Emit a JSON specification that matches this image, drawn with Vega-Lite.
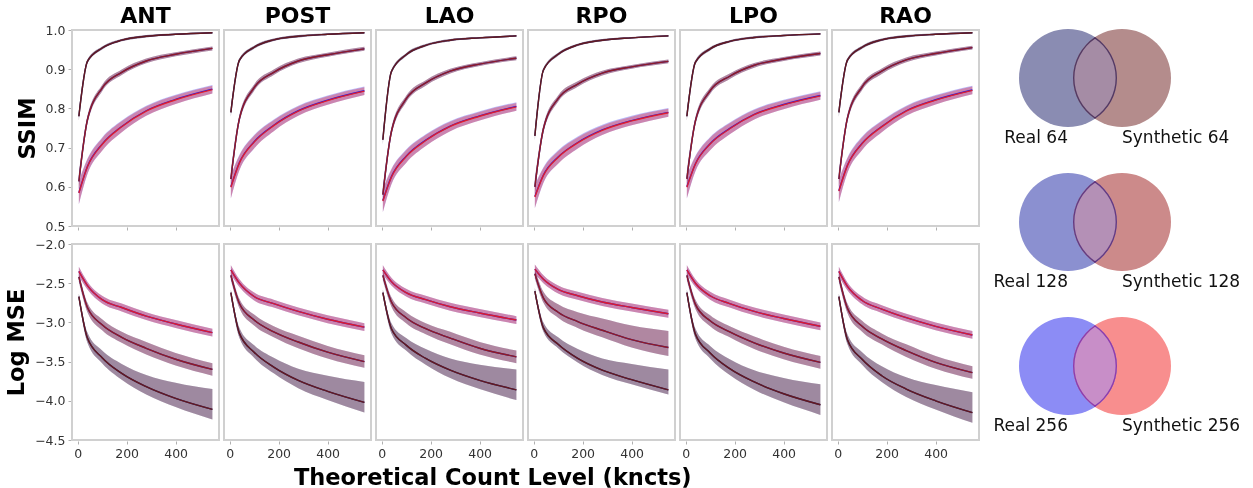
{
  "$schema": "https://vega.github.io/schema/vega-lite/v6.json",
  "padding": {"left": 5, "top": 5, "right": 5, "bottom": 0},
  "config": {
    "font": "DejaVu Sans",
    "view": {"stroke": "#d0d0d0", "strokeWidth": 2},
    "axis": {"labelFont": "DejaVu Sans", "labelFontSize": 12.5, "labelColor": "#333333", "labelOverlap": false, "labelFlush": false, "tickColor": "#b0b0b0", "tickSize": 3, "domain": false, "grid": false, "titleFont": "DejaVu Sans", "titleFontSize": 22.5, "titleFontWeight": "bold", "titleColor": "#000000", "labelPadding": 3, "titlePadding": 6},
    "header": {"labelFont": "DejaVu Sans", "labelFontSize": 22, "labelFontWeight": "bold", "labelColor": "#000000", "labelPadding": 0}
  },
  "datasets": {
    "ssim": [
      {"v":"ANT","r":"64","x":5,"y":0.780,"l":0.768,"h":0.792,"s":0.780,"sl":0.768,"sh":0.792},
      {"v":"ANT","r":"64","x":40,"y":0.920,"l":0.915,"h":0.925,"s":0.920,"sl":0.915,"sh":0.925},
      {"v":"ANT","r":"64","x":100,"y":0.954,"l":0.950,"h":0.958,"s":0.954,"sl":0.950,"sh":0.958},
      {"v":"ANT","r":"64","x":180,"y":0.974,"l":0.971,"h":0.977,"s":0.974,"sl":0.971,"sh":0.977},
      {"v":"ANT","r":"64","x":280,"y":0.984,"l":0.981,"h":0.987,"s":0.984,"sl":0.981,"sh":0.987},
      {"v":"ANT","r":"64","x":400,"y":0.989,"l":0.987,"h":0.991,"s":0.989,"sl":0.987,"sh":0.991},
      {"v":"ANT","r":"64","x":550,"y":0.993,"l":0.991,"h":0.995,"s":0.993,"sl":0.991,"sh":0.995},
      {"v":"ANT","r":"128","x":5,"y":0.614,"l":0.594,"h":0.634,"s":0.614,"sl":0.594,"sh":0.634},
      {"v":"ANT","r":"128","x":40,"y":0.771,"l":0.761,"h":0.781,"s":0.771,"sl":0.761,"sh":0.781},
      {"v":"ANT","r":"128","x":100,"y":0.852,"l":0.844,"h":0.860,"s":0.852,"sl":0.844,"sh":0.860},
      {"v":"ANT","r":"128","x":180,"y":0.892,"l":0.885,"h":0.899,"s":0.892,"sl":0.885,"sh":0.899},
      {"v":"ANT","r":"128","x":280,"y":0.921,"l":0.915,"h":0.927,"s":0.921,"sl":0.915,"sh":0.927},
      {"v":"ANT","r":"128","x":400,"y":0.938,"l":0.933,"h":0.943,"s":0.938,"sl":0.933,"sh":0.943},
      {"v":"ANT","r":"128","x":550,"y":0.953,"l":0.948,"h":0.958,"s":0.953,"sl":0.948,"sh":0.958},
      {"v":"ANT","r":"256","x":5,"y":0.585,"l":0.555,"h":0.615,"s":0.584,"sl":0.556,"sh":0.613},
      {"v":"ANT","r":"256","x":40,"y":0.652,"l":0.632,"h":0.672,"s":0.651,"sl":0.633,"sh":0.670},
      {"v":"ANT","r":"256","x":100,"y":0.709,"l":0.692,"h":0.726,"s":0.708,"sl":0.692,"sh":0.724},
      {"v":"ANT","r":"256","x":180,"y":0.754,"l":0.739,"h":0.769,"s":0.753,"sl":0.739,"sh":0.767},
      {"v":"ANT","r":"256","x":280,"y":0.794,"l":0.781,"h":0.807,"s":0.793,"sl":0.781,"sh":0.805},
      {"v":"ANT","r":"256","x":400,"y":0.823,"l":0.811,"h":0.835,"s":0.822,"sl":0.811,"sh":0.833},
      {"v":"ANT","r":"256","x":550,"y":0.849,"l":0.838,"h":0.860,"s":0.848,"sl":0.838,"sh":0.858},
      {"v":"POST","r":"64","x":5,"y":0.790,"l":0.778,"h":0.802,"s":0.790,"sl":0.778,"sh":0.802},
      {"v":"POST","r":"64","x":40,"y":0.923,"l":0.918,"h":0.928,"s":0.923,"sl":0.918,"sh":0.928},
      {"v":"POST","r":"64","x":100,"y":0.956,"l":0.952,"h":0.960,"s":0.956,"sl":0.952,"sh":0.960},
      {"v":"POST","r":"64","x":180,"y":0.975,"l":0.972,"h":0.978,"s":0.975,"sl":0.972,"sh":0.978},
      {"v":"POST","r":"64","x":280,"y":0.984,"l":0.981,"h":0.987,"s":0.984,"sl":0.981,"sh":0.987},
      {"v":"POST","r":"64","x":400,"y":0.989,"l":0.987,"h":0.991,"s":0.989,"sl":0.987,"sh":0.991},
      {"v":"POST","r":"64","x":550,"y":0.993,"l":0.991,"h":0.995,"s":0.993,"sl":0.991,"sh":0.995},
      {"v":"POST","r":"128","x":5,"y":0.620,"l":0.600,"h":0.640,"s":0.620,"sl":0.600,"sh":0.640},
      {"v":"POST","r":"128","x":40,"y":0.774,"l":0.764,"h":0.784,"s":0.774,"sl":0.764,"sh":0.784},
      {"v":"POST","r":"128","x":100,"y":0.853,"l":0.845,"h":0.861,"s":0.853,"sl":0.845,"sh":0.861},
      {"v":"POST","r":"128","x":180,"y":0.892,"l":0.885,"h":0.899,"s":0.892,"sl":0.885,"sh":0.899},
      {"v":"POST","r":"128","x":280,"y":0.921,"l":0.915,"h":0.927,"s":0.921,"sl":0.915,"sh":0.927},
      {"v":"POST","r":"128","x":400,"y":0.937,"l":0.932,"h":0.942,"s":0.937,"sl":0.932,"sh":0.942},
      {"v":"POST","r":"128","x":550,"y":0.952,"l":0.947,"h":0.957,"s":0.952,"sl":0.947,"sh":0.957},
      {"v":"POST","r":"256","x":5,"y":0.600,"l":0.570,"h":0.630,"s":0.599,"sl":0.571,"sh":0.628},
      {"v":"POST","r":"256","x":40,"y":0.662,"l":0.642,"h":0.682,"s":0.661,"sl":0.643,"sh":0.680},
      {"v":"POST","r":"256","x":100,"y":0.715,"l":0.698,"h":0.732,"s":0.714,"sl":0.698,"sh":0.730},
      {"v":"POST","r":"256","x":180,"y":0.757,"l":0.742,"h":0.772,"s":0.756,"sl":0.742,"sh":0.770},
      {"v":"POST","r":"256","x":280,"y":0.794,"l":0.781,"h":0.807,"s":0.793,"sl":0.781,"sh":0.805},
      {"v":"POST","r":"256","x":400,"y":0.821,"l":0.809,"h":0.833,"s":0.820,"sl":0.809,"sh":0.831},
      {"v":"POST","r":"256","x":550,"y":0.845,"l":0.834,"h":0.856,"s":0.844,"sl":0.834,"sh":0.854},
      {"v":"LAO","r":"64","x":5,"y":0.720,"l":0.708,"h":0.732,"s":0.720,"sl":0.708,"sh":0.732},
      {"v":"LAO","r":"64","x":40,"y":0.894,"l":0.889,"h":0.899,"s":0.894,"sl":0.889,"sh":0.899},
      {"v":"LAO","r":"64","x":100,"y":0.937,"l":0.933,"h":0.941,"s":0.937,"sl":0.933,"sh":0.941},
      {"v":"LAO","r":"64","x":180,"y":0.961,"l":0.958,"h":0.964,"s":0.961,"sl":0.958,"sh":0.964},
      {"v":"LAO","r":"64","x":280,"y":0.974,"l":0.971,"h":0.977,"s":0.974,"sl":0.971,"sh":0.977},
      {"v":"LAO","r":"64","x":400,"y":0.980,"l":0.978,"h":0.982,"s":0.980,"sl":0.978,"sh":0.982},
      {"v":"LAO","r":"64","x":550,"y":0.985,"l":0.983,"h":0.987,"s":0.985,"sl":0.983,"sh":0.987},
      {"v":"LAO","r":"128","x":5,"y":0.580,"l":0.560,"h":0.600,"s":0.580,"sl":0.560,"sh":0.600},
      {"v":"LAO","r":"128","x":40,"y":0.741,"l":0.731,"h":0.751,"s":0.741,"sl":0.731,"sh":0.751},
      {"v":"LAO","r":"128","x":100,"y":0.824,"l":0.816,"h":0.832,"s":0.824,"sl":0.816,"sh":0.832},
      {"v":"LAO","r":"128","x":180,"y":0.865,"l":0.858,"h":0.872,"s":0.865,"sl":0.858,"sh":0.872},
      {"v":"LAO","r":"128","x":280,"y":0.895,"l":0.889,"h":0.901,"s":0.895,"sl":0.889,"sh":0.901},
      {"v":"LAO","r":"128","x":400,"y":0.913,"l":0.908,"h":0.918,"s":0.913,"sl":0.908,"sh":0.918},
      {"v":"LAO","r":"128","x":550,"y":0.928,"l":0.923,"h":0.933,"s":0.928,"sl":0.923,"sh":0.933},
      {"v":"LAO","r":"256","x":5,"y":0.565,"l":0.535,"h":0.595,"s":0.564,"sl":0.536,"sh":0.593},
      {"v":"LAO","r":"256","x":40,"y":0.626,"l":0.606,"h":0.646,"s":0.625,"sl":0.607,"sh":0.644},
      {"v":"LAO","r":"256","x":100,"y":0.678,"l":0.661,"h":0.695,"s":0.677,"sl":0.661,"sh":0.693},
      {"v":"LAO","r":"256","x":180,"y":0.719,"l":0.704,"h":0.734,"s":0.718,"sl":0.704,"sh":0.732},
      {"v":"LAO","r":"256","x":280,"y":0.755,"l":0.742,"h":0.768,"s":0.754,"sl":0.742,"sh":0.766},
      {"v":"LAO","r":"256","x":400,"y":0.781,"l":0.769,"h":0.793,"s":0.780,"sl":0.769,"sh":0.791},
      {"v":"LAO","r":"256","x":550,"y":0.805,"l":0.794,"h":0.816,"s":0.804,"sl":0.794,"sh":0.814},
      {"v":"RPO","r":"64","x":5,"y":0.730,"l":0.718,"h":0.742,"s":0.730,"sl":0.718,"sh":0.742},
      {"v":"RPO","r":"64","x":40,"y":0.898,"l":0.893,"h":0.903,"s":0.898,"sl":0.893,"sh":0.903},
      {"v":"RPO","r":"64","x":100,"y":0.938,"l":0.934,"h":0.942,"s":0.938,"sl":0.934,"sh":0.942},
      {"v":"RPO","r":"64","x":180,"y":0.962,"l":0.959,"h":0.965,"s":0.962,"sl":0.959,"sh":0.965},
      {"v":"RPO","r":"64","x":280,"y":0.974,"l":0.971,"h":0.977,"s":0.974,"sl":0.971,"sh":0.977},
      {"v":"RPO","r":"64","x":400,"y":0.980,"l":0.978,"h":0.982,"s":0.980,"sl":0.978,"sh":0.982},
      {"v":"RPO","r":"64","x":550,"y":0.985,"l":0.983,"h":0.987,"s":0.985,"sl":0.983,"sh":0.987},
      {"v":"RPO","r":"128","x":5,"y":0.600,"l":0.580,"h":0.620,"s":0.600,"sl":0.580,"sh":0.620},
      {"v":"RPO","r":"128","x":40,"y":0.748,"l":0.738,"h":0.758,"s":0.748,"sl":0.738,"sh":0.758},
      {"v":"RPO","r":"128","x":100,"y":0.825,"l":0.817,"h":0.833,"s":0.825,"sl":0.817,"sh":0.833},
      {"v":"RPO","r":"128","x":180,"y":0.862,"l":0.855,"h":0.869,"s":0.862,"sl":0.855,"sh":0.869},
      {"v":"RPO","r":"128","x":280,"y":0.890,"l":0.884,"h":0.896,"s":0.890,"sl":0.884,"sh":0.896},
      {"v":"RPO","r":"128","x":400,"y":0.906,"l":0.901,"h":0.911,"s":0.906,"sl":0.901,"sh":0.911},
      {"v":"RPO","r":"128","x":550,"y":0.920,"l":0.915,"h":0.925,"s":0.920,"sl":0.915,"sh":0.925},
      {"v":"RPO","r":"256","x":5,"y":0.575,"l":0.545,"h":0.605,"s":0.574,"sl":0.546,"sh":0.603},
      {"v":"RPO","r":"256","x":40,"y":0.630,"l":0.610,"h":0.650,"s":0.629,"sl":0.611,"sh":0.648},
      {"v":"RPO","r":"256","x":100,"y":0.676,"l":0.659,"h":0.693,"s":0.675,"sl":0.659,"sh":0.691},
      {"v":"RPO","r":"256","x":180,"y":0.713,"l":0.698,"h":0.728,"s":0.712,"sl":0.698,"sh":0.726},
      {"v":"RPO","r":"256","x":280,"y":0.745,"l":0.732,"h":0.758,"s":0.744,"sl":0.732,"sh":0.756},
      {"v":"RPO","r":"256","x":400,"y":0.769,"l":0.757,"h":0.781,"s":0.768,"sl":0.757,"sh":0.779},
      {"v":"RPO","r":"256","x":550,"y":0.790,"l":0.779,"h":0.801,"s":0.789,"sl":0.779,"sh":0.799},
      {"v":"LPO","r":"64","x":5,"y":0.780,"l":0.768,"h":0.792,"s":0.780,"sl":0.768,"sh":0.792},
      {"v":"LPO","r":"64","x":40,"y":0.918,"l":0.913,"h":0.923,"s":0.918,"sl":0.913,"sh":0.923},
      {"v":"LPO","r":"64","x":100,"y":0.952,"l":0.948,"h":0.956,"s":0.952,"sl":0.948,"sh":0.956},
      {"v":"LPO","r":"64","x":180,"y":0.971,"l":0.968,"h":0.974,"s":0.971,"sl":0.968,"sh":0.974},
      {"v":"LPO","r":"64","x":280,"y":0.981,"l":0.978,"h":0.984,"s":0.981,"sl":0.978,"sh":0.984},
      {"v":"LPO","r":"64","x":400,"y":0.986,"l":0.984,"h":0.988,"s":0.986,"sl":0.984,"sh":0.988},
      {"v":"LPO","r":"64","x":550,"y":0.990,"l":0.988,"h":0.992,"s":0.990,"sl":0.988,"sh":0.992},
      {"v":"LPO","r":"128","x":5,"y":0.620,"l":0.600,"h":0.640,"s":0.620,"sl":0.600,"sh":0.640},
      {"v":"LPO","r":"128","x":40,"y":0.768,"l":0.758,"h":0.778,"s":0.768,"sl":0.758,"sh":0.778},
      {"v":"LPO","r":"128","x":100,"y":0.845,"l":0.837,"h":0.853,"s":0.845,"sl":0.837,"sh":0.853},
      {"v":"LPO","r":"128","x":180,"y":0.882,"l":0.875,"h":0.889,"s":0.882,"sl":0.875,"sh":0.889},
      {"v":"LPO","r":"128","x":280,"y":0.910,"l":0.904,"h":0.916,"s":0.910,"sl":0.904,"sh":0.916},
      {"v":"LPO","r":"128","x":400,"y":0.926,"l":0.921,"h":0.931,"s":0.926,"sl":0.921,"sh":0.931},
      {"v":"LPO","r":"128","x":550,"y":0.940,"l":0.935,"h":0.945,"s":0.940,"sl":0.935,"sh":0.945},
      {"v":"LPO","r":"256","x":5,"y":0.600,"l":0.570,"h":0.630,"s":0.599,"sl":0.571,"sh":0.628},
      {"v":"LPO","r":"256","x":40,"y":0.659,"l":0.639,"h":0.679,"s":0.658,"sl":0.640,"sh":0.677},
      {"v":"LPO","r":"256","x":100,"y":0.710,"l":0.693,"h":0.727,"s":0.709,"sl":0.693,"sh":0.725},
      {"v":"LPO","r":"256","x":180,"y":0.749,"l":0.734,"h":0.764,"s":0.748,"sl":0.734,"sh":0.762},
      {"v":"LPO","r":"256","x":280,"y":0.785,"l":0.772,"h":0.798,"s":0.784,"sl":0.772,"sh":0.796},
      {"v":"LPO","r":"256","x":400,"y":0.810,"l":0.798,"h":0.822,"s":0.809,"sl":0.798,"sh":0.820},
      {"v":"LPO","r":"256","x":550,"y":0.833,"l":0.822,"h":0.844,"s":0.832,"sl":0.822,"sh":0.842},
      {"v":"RAO","r":"64","x":5,"y":0.790,"l":0.778,"h":0.802,"s":0.790,"sl":0.778,"sh":0.802},
      {"v":"RAO","r":"64","x":40,"y":0.923,"l":0.918,"h":0.928,"s":0.923,"sl":0.918,"sh":0.928},
      {"v":"RAO","r":"64","x":100,"y":0.956,"l":0.952,"h":0.960,"s":0.956,"sl":0.952,"sh":0.960},
      {"v":"RAO","r":"64","x":180,"y":0.975,"l":0.972,"h":0.978,"s":0.975,"sl":0.972,"sh":0.978},
      {"v":"RAO","r":"64","x":280,"y":0.984,"l":0.981,"h":0.987,"s":0.984,"sl":0.981,"sh":0.987},
      {"v":"RAO","r":"64","x":400,"y":0.989,"l":0.987,"h":0.991,"s":0.989,"sl":0.987,"sh":0.991},
      {"v":"RAO","r":"64","x":550,"y":0.993,"l":0.991,"h":0.995,"s":0.993,"sl":0.991,"sh":0.995},
      {"v":"RAO","r":"128","x":5,"y":0.620,"l":0.600,"h":0.640,"s":0.620,"sl":0.600,"sh":0.640},
      {"v":"RAO","r":"128","x":40,"y":0.775,"l":0.765,"h":0.785,"s":0.775,"sl":0.765,"sh":0.785},
      {"v":"RAO","r":"128","x":100,"y":0.855,"l":0.847,"h":0.863,"s":0.855,"sl":0.847,"sh":0.863},
      {"v":"RAO","r":"128","x":180,"y":0.895,"l":0.888,"h":0.902,"s":0.895,"sl":0.888,"sh":0.902},
      {"v":"RAO","r":"128","x":280,"y":0.924,"l":0.918,"h":0.930,"s":0.924,"sl":0.918,"sh":0.930},
      {"v":"RAO","r":"128","x":400,"y":0.940,"l":0.935,"h":0.945,"s":0.940,"sl":0.935,"sh":0.945},
      {"v":"RAO","r":"128","x":550,"y":0.955,"l":0.950,"h":0.960,"s":0.955,"sl":0.950,"sh":0.960},
      {"v":"RAO","r":"256","x":5,"y":0.590,"l":0.560,"h":0.620,"s":0.589,"sl":0.561,"sh":0.618},
      {"v":"RAO","r":"256","x":40,"y":0.655,"l":0.635,"h":0.675,"s":0.654,"sl":0.636,"sh":0.673},
      {"v":"RAO","r":"256","x":100,"y":0.711,"l":0.694,"h":0.728,"s":0.710,"sl":0.694,"sh":0.726},
      {"v":"RAO","r":"256","x":180,"y":0.754,"l":0.739,"h":0.769,"s":0.753,"sl":0.739,"sh":0.767},
      {"v":"RAO","r":"256","x":280,"y":0.794,"l":0.781,"h":0.807,"s":0.793,"sl":0.781,"sh":0.805},
      {"v":"RAO","r":"256","x":400,"y":0.822,"l":0.810,"h":0.834,"s":0.821,"sl":0.810,"sh":0.832},
      {"v":"RAO","r":"256","x":550,"y":0.847,"l":0.836,"h":0.858,"s":0.846,"sl":0.836,"sh":0.856}
    ],
    "mse": [
      {"v":"ANT","r":"64","x":5,"y":-2.67,"l":-2.71,"h":-2.63,"s":-2.67,"sl":-2.71,"sh":-2.63},
      {"v":"ANT","r":"64","x":40,"y":-3.20,"l":-3.26,"h":-3.13,"s":-3.20,"sl":-3.26,"sh":-3.13},
      {"v":"ANT","r":"64","x":100,"y":-3.45,"l":-3.52,"h":-3.36,"s":-3.45,"sl":-3.52,"sh":-3.36},
      {"v":"ANT","r":"64","x":180,"y":-3.65,"l":-3.73,"h":-3.53,"s":-3.65,"sl":-3.73,"sh":-3.53},
      {"v":"ANT","r":"64","x":280,"y":-3.82,"l":-3.92,"h":-3.67,"s":-3.82,"sl":-3.92,"sh":-3.67},
      {"v":"ANT","r":"64","x":400,"y":-3.97,"l":-4.08,"h":-3.77,"s":-3.97,"sl":-4.08,"sh":-3.77},
      {"v":"ANT","r":"64","x":550,"y":-4.11,"l":-4.24,"h":-3.85,"s":-4.11,"sl":-4.24,"sh":-3.85},
      {"v":"ANT","r":"128","x":5,"y":-2.42,"l":-2.48,"h":-2.36,"s":-2.42,"sl":-2.48,"sh":-2.36},
      {"v":"ANT","r":"128","x":40,"y":-2.81,"l":-2.87,"h":-2.75,"s":-2.81,"sl":-2.87,"sh":-2.75},
      {"v":"ANT","r":"128","x":100,"y":-3.03,"l":-3.10,"h":-2.96,"s":-3.03,"sl":-3.10,"sh":-2.96},
      {"v":"ANT","r":"128","x":180,"y":-3.19,"l":-3.26,"h":-3.12,"s":-3.19,"sl":-3.26,"sh":-3.12},
      {"v":"ANT","r":"128","x":280,"y":-3.33,"l":-3.41,"h":-3.25,"s":-3.33,"sl":-3.41,"sh":-3.25},
      {"v":"ANT","r":"128","x":400,"y":-3.47,"l":-3.55,"h":-3.39,"s":-3.47,"sl":-3.55,"sh":-3.39},
      {"v":"ANT","r":"128","x":550,"y":-3.60,"l":-3.68,"h":-3.52,"s":-3.60,"sl":-3.68,"sh":-3.52},
      {"v":"ANT","r":"256","x":5,"y":-2.35,"l":-2.41,"h":-2.29,"s":-2.35,"sl":-2.41,"sh":-2.29},
      {"v":"ANT","r":"256","x":40,"y":-2.53,"l":-2.58,"h":-2.48,"s":-2.53,"sl":-2.58,"sh":-2.48},
      {"v":"ANT","r":"256","x":100,"y":-2.71,"l":-2.76,"h":-2.66,"s":-2.71,"sl":-2.76,"sh":-2.66},
      {"v":"ANT","r":"256","x":180,"y":-2.81,"l":-2.86,"h":-2.76,"s":-2.81,"sl":-2.86,"sh":-2.76},
      {"v":"ANT","r":"256","x":280,"y":-2.92,"l":-2.97,"h":-2.87,"s":-2.92,"sl":-2.97,"sh":-2.87},
      {"v":"ANT","r":"256","x":400,"y":-3.02,"l":-3.07,"h":-2.97,"s":-3.02,"sl":-3.07,"sh":-2.97},
      {"v":"ANT","r":"256","x":550,"y":-3.13,"l":-3.18,"h":-3.08,"s":-3.13,"sl":-3.18,"sh":-3.08},
      {"v":"POST","r":"64","x":5,"y":-2.62,"l":-2.66,"h":-2.58,"s":-2.62,"sl":-2.66,"sh":-2.58},
      {"v":"POST","r":"64","x":40,"y":-3.14,"l":-3.20,"h":-3.07,"s":-3.14,"sl":-3.20,"sh":-3.07},
      {"v":"POST","r":"64","x":100,"y":-3.38,"l":-3.45,"h":-3.29,"s":-3.38,"sl":-3.45,"sh":-3.29},
      {"v":"POST","r":"64","x":180,"y":-3.57,"l":-3.65,"h":-3.45,"s":-3.57,"sl":-3.65,"sh":-3.45},
      {"v":"POST","r":"64","x":280,"y":-3.74,"l":-3.84,"h":-3.59,"s":-3.74,"sl":-3.84,"sh":-3.59},
      {"v":"POST","r":"64","x":400,"y":-3.88,"l":-3.99,"h":-3.68,"s":-3.88,"sl":-3.99,"sh":-3.68},
      {"v":"POST","r":"64","x":550,"y":-4.02,"l":-4.15,"h":-3.76,"s":-4.02,"sl":-4.15,"sh":-3.76},
      {"v":"POST","r":"128","x":5,"y":-2.40,"l":-2.46,"h":-2.34,"s":-2.40,"sl":-2.46,"sh":-2.34},
      {"v":"POST","r":"128","x":40,"y":-2.76,"l":-2.82,"h":-2.70,"s":-2.76,"sl":-2.82,"sh":-2.70},
      {"v":"POST","r":"128","x":100,"y":-2.97,"l":-3.04,"h":-2.90,"s":-2.97,"sl":-3.04,"sh":-2.90},
      {"v":"POST","r":"128","x":180,"y":-3.12,"l":-3.19,"h":-3.05,"s":-3.12,"sl":-3.19,"sh":-3.05},
      {"v":"POST","r":"128","x":280,"y":-3.25,"l":-3.33,"h":-3.17,"s":-3.25,"sl":-3.33,"sh":-3.17},
      {"v":"POST","r":"128","x":400,"y":-3.38,"l":-3.46,"h":-3.30,"s":-3.38,"sl":-3.46,"sh":-3.30},
      {"v":"POST","r":"128","x":550,"y":-3.50,"l":-3.58,"h":-3.42,"s":-3.50,"sl":-3.58,"sh":-3.42},
      {"v":"POST","r":"256","x":5,"y":-2.33,"l":-2.39,"h":-2.27,"s":-2.33,"sl":-2.39,"sh":-2.27},
      {"v":"POST","r":"256","x":40,"y":-2.50,"l":-2.55,"h":-2.45,"s":-2.50,"sl":-2.55,"sh":-2.45},
      {"v":"POST","r":"256","x":100,"y":-2.67,"l":-2.72,"h":-2.62,"s":-2.67,"sl":-2.72,"sh":-2.62},
      {"v":"POST","r":"256","x":180,"y":-2.76,"l":-2.81,"h":-2.71,"s":-2.76,"sl":-2.81,"sh":-2.71},
      {"v":"POST","r":"256","x":280,"y":-2.86,"l":-2.91,"h":-2.81,"s":-2.86,"sl":-2.91,"sh":-2.81},
      {"v":"POST","r":"256","x":400,"y":-2.96,"l":-3.01,"h":-2.91,"s":-2.96,"sl":-3.01,"sh":-2.91},
      {"v":"POST","r":"256","x":550,"y":-3.06,"l":-3.11,"h":-3.01,"s":-3.06,"sl":-3.11,"sh":-3.01},
      {"v":"LAO","r":"64","x":5,"y":-2.62,"l":-2.66,"h":-2.58,"s":-2.62,"sl":-2.66,"sh":-2.58},
      {"v":"LAO","r":"64","x":40,"y":-3.08,"l":-3.14,"h":-3.01,"s":-3.08,"sl":-3.14,"sh":-3.01},
      {"v":"LAO","r":"64","x":100,"y":-3.29,"l":-3.36,"h":-3.20,"s":-3.29,"sl":-3.36,"sh":-3.20},
      {"v":"LAO","r":"64","x":180,"y":-3.46,"l":-3.54,"h":-3.34,"s":-3.46,"sl":-3.54,"sh":-3.34},
      {"v":"LAO","r":"64","x":280,"y":-3.61,"l":-3.71,"h":-3.46,"s":-3.61,"sl":-3.71,"sh":-3.46},
      {"v":"LAO","r":"64","x":400,"y":-3.74,"l":-3.85,"h":-3.54,"s":-3.74,"sl":-3.85,"sh":-3.54},
      {"v":"LAO","r":"64","x":550,"y":-3.86,"l":-3.99,"h":-3.60,"s":-3.86,"sl":-3.99,"sh":-3.60},
      {"v":"LAO","r":"128","x":5,"y":-2.40,"l":-2.46,"h":-2.34,"s":-2.40,"sl":-2.46,"sh":-2.34},
      {"v":"LAO","r":"128","x":40,"y":-2.74,"l":-2.80,"h":-2.68,"s":-2.74,"sl":-2.80,"sh":-2.68},
      {"v":"LAO","r":"128","x":100,"y":-2.94,"l":-3.01,"h":-2.87,"s":-2.94,"sl":-3.01,"sh":-2.87},
      {"v":"LAO","r":"128","x":180,"y":-3.08,"l":-3.15,"h":-3.01,"s":-3.08,"sl":-3.15,"sh":-3.01},
      {"v":"LAO","r":"128","x":280,"y":-3.20,"l":-3.28,"h":-3.12,"s":-3.20,"sl":-3.28,"sh":-3.12},
      {"v":"LAO","r":"128","x":400,"y":-3.33,"l":-3.41,"h":-3.25,"s":-3.33,"sl":-3.41,"sh":-3.25},
      {"v":"LAO","r":"128","x":550,"y":-3.44,"l":-3.52,"h":-3.36,"s":-3.44,"sl":-3.52,"sh":-3.36},
      {"v":"LAO","r":"256","x":5,"y":-2.33,"l":-2.39,"h":-2.27,"s":-2.33,"sl":-2.39,"sh":-2.27},
      {"v":"LAO","r":"256","x":40,"y":-2.48,"l":-2.53,"h":-2.43,"s":-2.48,"sl":-2.53,"sh":-2.43},
      {"v":"LAO","r":"256","x":100,"y":-2.62,"l":-2.67,"h":-2.57,"s":-2.62,"sl":-2.67,"sh":-2.57},
      {"v":"LAO","r":"256","x":180,"y":-2.71,"l":-2.76,"h":-2.66,"s":-2.71,"sl":-2.76,"sh":-2.66},
      {"v":"LAO","r":"256","x":280,"y":-2.80,"l":-2.85,"h":-2.75,"s":-2.80,"sl":-2.85,"sh":-2.75},
      {"v":"LAO","r":"256","x":400,"y":-2.88,"l":-2.93,"h":-2.83,"s":-2.88,"sl":-2.93,"sh":-2.83},
      {"v":"LAO","r":"256","x":550,"y":-2.97,"l":-3.02,"h":-2.92,"s":-2.97,"sl":-3.02,"sh":-2.92},
      {"v":"RPO","r":"64","x":5,"y":-2.60,"l":-2.64,"h":-2.56,"s":-2.60,"sl":-2.64,"sh":-2.56},
      {"v":"RPO","r":"64","x":40,"y":-3.07,"l":-3.12,"h":-3.00,"s":-3.07,"sl":-3.12,"sh":-3.00},
      {"v":"RPO","r":"64","x":100,"y":-3.28,"l":-3.33,"h":-3.19,"s":-3.28,"sl":-3.33,"sh":-3.19},
      {"v":"RPO","r":"64","x":180,"y":-3.46,"l":-3.51,"h":-3.34,"s":-3.46,"sl":-3.51,"sh":-3.34},
      {"v":"RPO","r":"64","x":280,"y":-3.61,"l":-3.67,"h":-3.46,"s":-3.61,"sl":-3.67,"sh":-3.46},
      {"v":"RPO","r":"64","x":400,"y":-3.73,"l":-3.79,"h":-3.53,"s":-3.73,"sl":-3.79,"sh":-3.53},
      {"v":"RPO","r":"64","x":550,"y":-3.86,"l":-3.92,"h":-3.60,"s":-3.86,"sl":-3.92,"sh":-3.60},
      {"v":"RPO","r":"128","x":5,"y":-2.38,"l":-2.44,"h":-2.32,"s":-2.38,"sl":-2.44,"sh":-2.32},
      {"v":"RPO","r":"128","x":40,"y":-2.69,"l":-2.75,"h":-2.61,"s":-2.69,"sl":-2.75,"sh":-2.61},
      {"v":"RPO","r":"128","x":100,"y":-2.87,"l":-2.94,"h":-2.77,"s":-2.87,"sl":-2.94,"sh":-2.77},
      {"v":"RPO","r":"128","x":180,"y":-2.99,"l":-3.07,"h":-2.87,"s":-2.99,"sl":-3.07,"sh":-2.87},
      {"v":"RPO","r":"128","x":280,"y":-3.10,"l":-3.19,"h":-2.95,"s":-3.10,"sl":-3.19,"sh":-2.95},
      {"v":"RPO","r":"128","x":400,"y":-3.22,"l":-3.32,"h":-3.04,"s":-3.22,"sl":-3.32,"sh":-3.04},
      {"v":"RPO","r":"128","x":550,"y":-3.32,"l":-3.43,"h":-3.11,"s":-3.32,"sl":-3.43,"sh":-3.11},
      {"v":"RPO","r":"256","x":5,"y":-2.32,"l":-2.38,"h":-2.26,"s":-2.32,"sl":-2.38,"sh":-2.26},
      {"v":"RPO","r":"256","x":40,"y":-2.45,"l":-2.50,"h":-2.40,"s":-2.45,"sl":-2.50,"sh":-2.40},
      {"v":"RPO","r":"256","x":100,"y":-2.58,"l":-2.63,"h":-2.53,"s":-2.58,"sl":-2.63,"sh":-2.53},
      {"v":"RPO","r":"256","x":180,"y":-2.66,"l":-2.71,"h":-2.61,"s":-2.66,"sl":-2.71,"sh":-2.61},
      {"v":"RPO","r":"256","x":280,"y":-2.74,"l":-2.79,"h":-2.69,"s":-2.74,"sl":-2.79,"sh":-2.69},
      {"v":"RPO","r":"256","x":400,"y":-2.81,"l":-2.86,"h":-2.76,"s":-2.81,"sl":-2.86,"sh":-2.76},
      {"v":"RPO","r":"256","x":550,"y":-2.89,"l":-2.94,"h":-2.84,"s":-2.89,"sl":-2.94,"sh":-2.84},
      {"v":"LPO","r":"64","x":5,"y":-2.62,"l":-2.66,"h":-2.58,"s":-2.62,"sl":-2.66,"sh":-2.58},
      {"v":"LPO","r":"64","x":40,"y":-3.15,"l":-3.21,"h":-3.08,"s":-3.15,"sl":-3.21,"sh":-3.08},
      {"v":"LPO","r":"64","x":100,"y":-3.39,"l":-3.46,"h":-3.30,"s":-3.39,"sl":-3.46,"sh":-3.30},
      {"v":"LPO","r":"64","x":180,"y":-3.59,"l":-3.67,"h":-3.47,"s":-3.59,"sl":-3.67,"sh":-3.47},
      {"v":"LPO","r":"64","x":280,"y":-3.76,"l":-3.86,"h":-3.61,"s":-3.76,"sl":-3.86,"sh":-3.61},
      {"v":"LPO","r":"64","x":400,"y":-3.91,"l":-4.02,"h":-3.71,"s":-3.91,"sl":-4.02,"sh":-3.71},
      {"v":"LPO","r":"64","x":550,"y":-4.05,"l":-4.18,"h":-3.79,"s":-4.05,"sl":-4.18,"sh":-3.79},
      {"v":"LPO","r":"128","x":5,"y":-2.40,"l":-2.46,"h":-2.34,"s":-2.40,"sl":-2.46,"sh":-2.34},
      {"v":"LPO","r":"128","x":40,"y":-2.77,"l":-2.83,"h":-2.71,"s":-2.77,"sl":-2.83,"sh":-2.71},
      {"v":"LPO","r":"128","x":100,"y":-2.98,"l":-3.05,"h":-2.91,"s":-2.98,"sl":-3.05,"sh":-2.91},
      {"v":"LPO","r":"128","x":180,"y":-3.12,"l":-3.19,"h":-3.05,"s":-3.12,"sl":-3.19,"sh":-3.05},
      {"v":"LPO","r":"128","x":280,"y":-3.26,"l":-3.34,"h":-3.18,"s":-3.26,"sl":-3.34,"sh":-3.18},
      {"v":"LPO","r":"128","x":400,"y":-3.39,"l":-3.47,"h":-3.31,"s":-3.39,"sl":-3.47,"sh":-3.31},
      {"v":"LPO","r":"128","x":550,"y":-3.51,"l":-3.59,"h":-3.43,"s":-3.51,"sl":-3.59,"sh":-3.43},
      {"v":"LPO","r":"256","x":5,"y":-2.33,"l":-2.39,"h":-2.27,"s":-2.33,"sl":-2.39,"sh":-2.27},
      {"v":"LPO","r":"256","x":40,"y":-2.50,"l":-2.55,"h":-2.45,"s":-2.50,"sl":-2.55,"sh":-2.45},
      {"v":"LPO","r":"256","x":100,"y":-2.66,"l":-2.71,"h":-2.61,"s":-2.66,"sl":-2.71,"sh":-2.61},
      {"v":"LPO","r":"256","x":180,"y":-2.76,"l":-2.81,"h":-2.71,"s":-2.76,"sl":-2.81,"sh":-2.71},
      {"v":"LPO","r":"256","x":280,"y":-2.86,"l":-2.91,"h":-2.81,"s":-2.86,"sl":-2.91,"sh":-2.81},
      {"v":"LPO","r":"256","x":400,"y":-2.95,"l":-3.00,"h":-2.90,"s":-2.95,"sl":-3.00,"sh":-2.90},
      {"v":"LPO","r":"256","x":550,"y":-3.05,"l":-3.10,"h":-3.00,"s":-3.05,"sl":-3.10,"sh":-3.00},
      {"v":"RAO","r":"64","x":5,"y":-2.67,"l":-2.71,"h":-2.63,"s":-2.67,"sl":-2.71,"sh":-2.63},
      {"v":"RAO","r":"64","x":40,"y":-3.22,"l":-3.28,"h":-3.15,"s":-3.22,"sl":-3.28,"sh":-3.15},
      {"v":"RAO","r":"64","x":100,"y":-3.47,"l":-3.54,"h":-3.38,"s":-3.47,"sl":-3.54,"sh":-3.38},
      {"v":"RAO","r":"64","x":180,"y":-3.68,"l":-3.76,"h":-3.56,"s":-3.68,"sl":-3.76,"sh":-3.56},
      {"v":"RAO","r":"64","x":280,"y":-3.85,"l":-3.95,"h":-3.70,"s":-3.85,"sl":-3.95,"sh":-3.70},
      {"v":"RAO","r":"64","x":400,"y":-4.00,"l":-4.11,"h":-3.80,"s":-4.00,"sl":-4.11,"sh":-3.80},
      {"v":"RAO","r":"64","x":550,"y":-4.15,"l":-4.28,"h":-3.89,"s":-4.15,"sl":-4.28,"sh":-3.89},
      {"v":"RAO","r":"128","x":5,"y":-2.42,"l":-2.48,"h":-2.36,"s":-2.42,"sl":-2.48,"sh":-2.36},
      {"v":"RAO","r":"128","x":40,"y":-2.82,"l":-2.88,"h":-2.76,"s":-2.82,"sl":-2.88,"sh":-2.76},
      {"v":"RAO","r":"128","x":100,"y":-3.05,"l":-3.12,"h":-2.98,"s":-3.05,"sl":-3.12,"sh":-2.98},
      {"v":"RAO","r":"128","x":180,"y":-3.21,"l":-3.28,"h":-3.14,"s":-3.21,"sl":-3.28,"sh":-3.14},
      {"v":"RAO","r":"128","x":280,"y":-3.36,"l":-3.44,"h":-3.28,"s":-3.36,"sl":-3.44,"sh":-3.28},
      {"v":"RAO","r":"128","x":400,"y":-3.51,"l":-3.59,"h":-3.43,"s":-3.51,"sl":-3.59,"sh":-3.43},
      {"v":"RAO","r":"128","x":550,"y":-3.64,"l":-3.72,"h":-3.56,"s":-3.64,"sl":-3.72,"sh":-3.56},
      {"v":"RAO","r":"256","x":5,"y":-2.35,"l":-2.41,"h":-2.29,"s":-2.35,"sl":-2.41,"sh":-2.29},
      {"v":"RAO","r":"256","x":40,"y":-2.54,"l":-2.59,"h":-2.49,"s":-2.54,"sl":-2.59,"sh":-2.49},
      {"v":"RAO","r":"256","x":100,"y":-2.72,"l":-2.77,"h":-2.67,"s":-2.72,"sl":-2.77,"sh":-2.67},
      {"v":"RAO","r":"256","x":180,"y":-2.83,"l":-2.88,"h":-2.78,"s":-2.83,"sl":-2.88,"sh":-2.78},
      {"v":"RAO","r":"256","x":280,"y":-2.94,"l":-2.99,"h":-2.89,"s":-2.94,"sl":-2.99,"sh":-2.89},
      {"v":"RAO","r":"256","x":400,"y":-3.05,"l":-3.10,"h":-3.00,"s":-3.05,"sl":-3.10,"sh":-3.00},
      {"v":"RAO","r":"256","x":550,"y":-3.16,"l":-3.21,"h":-3.11,"s":-3.16,"sl":-3.21,"sh":-3.11}
    ],
    "venn": [
      {"k":"Real","r":"64","t":"Real 64"},
      {"k":"Synthetic","r":"64","t":"Synthetic 64"},
      {"k":"Real","r":"128","t":"Real 128"},
      {"k":"Synthetic","r":"128","t":"Synthetic 128"},
      {"k":"Real","r":"256","t":"Real 256"},
      {"k":"Synthetic","r":"256","t":"Synthetic 256"}
    ]
  },
  "spacing": 13,
  "hconcat": [
    {
      "spacing": 5,
      "title": {"text": "Theoretical Count Level (kncts)", "orient": "bottom", "anchor": "middle", "fontSize": 22.5, "fontWeight": "bold", "font": "DejaVu Sans", "color": "#000000", "offset": 7},
      "vconcat": [
        {
          "data": {"name": "ssim"},
          "facet": {"column": {"field": "v", "type": "nominal", "sort": ["ANT", "POST", "LAO", "RPO", "LPO", "RAO"], "title": null}},
          "spacing": 3,
          "spec": {
            "width": 147,
            "height": 196,
            "encoding": {
              "x": {"field": "x", "type": "quantitative", "scale": {"domain": [-23, 577], "nice": false, "zero": false}, "axis": {"values": [0, 200, 400], "labels": false, "title": null}}
            },
            "layer": [
              {"mark": {"type": "area", "interpolate": "monotone", "opacity": 0.3},
               "encoding": {
                 "y": {"field": "l", "type": "quantitative", "title": "SSIM", "scale": {"domain": [0.5, 1.0], "nice": false, "zero": false}, "axis": {"values": [0.5, 0.6, 0.7, 0.8, 0.9, 1.0], "format": ".1f", "labelOverlap": false}},
                 "y2": {"field": "h"},
                 "color": {"field": "r", "type": "nominal", "scale": {"domain": ["64", "128", "256"], "range": ["#1a1a66", "#1a22a3", "#1a1aeb"]}, "legend": null}}},
              {"mark": {"type": "area", "interpolate": "monotone", "opacity": 0.33},
               "encoding": {
                 "y": {"field": "sl", "type": "quantitative", "title": "SSIM", "axis": {"values": [0.5, 0.6, 0.7, 0.8, 0.9, 1.0], "format": ".1f", "labelOverlap": false}},
                 "y2": {"field": "sh"},
                 "color": {"field": "r", "type": "nominal", "scale": {"domain": ["64", "128", "256"], "range": ["#66283c", "#9e1a1a", "#f01c1c"]}, "legend": null}}},
              {"mark": {"type": "line", "interpolate": "monotone", "strokeWidth": 1.4},
               "encoding": {
                 "y": {"field": "y", "type": "quantitative", "title": "SSIM", "axis": {"values": [0.5, 0.6, 0.7, 0.8, 0.9, 1.0], "format": ".1f", "labelOverlap": false}},
                 "color": {"field": "r", "type": "nominal", "scale": {"domain": ["64", "128", "256"], "range": ["#1a1a66", "#1a22a3", "#1a1aeb"]}, "legend": null}}},
              {"mark": {"type": "line", "interpolate": "monotone", "strokeWidth": 1.4, "opacity": 0.9},
               "encoding": {
                 "y": {"field": "s", "type": "quantitative", "title": "SSIM", "axis": {"values": [0.5, 0.6, 0.7, 0.8, 0.9, 1.0], "format": ".1f", "labelOverlap": false}},
                 "color": {"field": "r", "type": "nominal", "scale": {"domain": ["64", "128", "256"], "range": ["#6b1a1a", "#9e1a1a", "#f01c1c"]}, "legend": null}}}
            ],
            "resolve": {"scale": {"color": "independent"}}
          }
        },
        {
          "data": {"name": "mse"},
          "facet": {"column": {"field": "v", "type": "nominal", "sort": ["ANT", "POST", "LAO", "RPO", "LPO", "RAO"], "title": null, "header": {"labels": false}}},
          "spacing": 3,
          "spec": {
            "width": 147,
            "height": 196,
            "encoding": {
              "x": {"field": "x", "type": "quantitative", "scale": {"domain": [-23, 577], "nice": false, "zero": false}, "axis": {"values": [0, 200, 400], "title": null}}
            },
            "layer": [
              {"mark": {"type": "area", "interpolate": "monotone", "opacity": 0.3},
               "encoding": {
                 "y": {"field": "l", "type": "quantitative", "title": "Log MSE", "scale": {"domain": [-4.5, -2.0], "nice": false, "zero": false}, "axis": {"values": [-4.5, -4.0, -3.5, -3.0, -2.5, -2.0], "format": ".1f", "labelOverlap": false}},
                 "y2": {"field": "h"},
                 "color": {"field": "r", "type": "nominal", "scale": {"domain": ["64", "128", "256"], "range": ["#1a1a66", "#1a22a3", "#1a1aeb"]}, "legend": null}}},
              {"mark": {"type": "area", "interpolate": "monotone", "opacity": 0.33},
               "encoding": {
                 "y": {"field": "sl", "type": "quantitative", "title": "Log MSE", "axis": {"values": [-4.5, -4.0, -3.5, -3.0, -2.5, -2.0], "format": ".1f", "labelOverlap": false}},
                 "y2": {"field": "sh"},
                 "color": {"field": "r", "type": "nominal", "scale": {"domain": ["64", "128", "256"], "range": ["#66283c", "#9e1a1a", "#f01c1c"]}, "legend": null}}},
              {"mark": {"type": "line", "interpolate": "monotone", "strokeWidth": 1.4},
               "encoding": {
                 "y": {"field": "y", "type": "quantitative", "title": "Log MSE", "axis": {"values": [-4.5, -4.0, -3.5, -3.0, -2.5, -2.0], "format": ".1f", "labelOverlap": false}},
                 "color": {"field": "r", "type": "nominal", "scale": {"domain": ["64", "128", "256"], "range": ["#1a1a66", "#1a22a3", "#1a1aeb"]}, "legend": null}}},
              {"mark": {"type": "line", "interpolate": "monotone", "strokeWidth": 1.4, "opacity": 0.9},
               "encoding": {
                 "y": {"field": "s", "type": "quantitative", "title": "Log MSE", "axis": {"values": [-4.5, -4.0, -3.5, -3.0, -2.5, -2.0], "format": ".1f", "labelOverlap": false}},
                 "color": {"field": "r", "type": "nominal", "scale": {"domain": ["64", "128", "256"], "range": ["#6b1a1a", "#9e1a1a", "#f01c1c"]}, "legend": null}}}
            ],
            "resolve": {"scale": {"color": "independent"}}
          }
        }
      ]
    },
    {
      "data": {"name": "venn"},
      "width": 162,
      "height": 384,
      "view": {"stroke": null},
      "encoding": {
        "x": {"field": "k", "type": "nominal", "scale": {"type": "point", "domain": ["Real", "Synthetic"], "padding": 1}, "axis": null},
        "y": {"field": "r", "type": "nominal", "scale": {"type": "point", "domain": ["64", "128", "256"], "padding": 0.333}, "axis": null}
      },
      "layer": [
        {"transform": [{"filter": "datum.k === 'Real'"}],
         "mark": {"type": "point", "filled": true, "size": 9604, "opacity": 1, "strokeWidth": 0},
         "encoding": {"color": {"field": "r", "type": "nominal", "scale": {"domain": ["64", "128", "256"], "range": ["#8a8cb2", "#8b90d0", "#8c8cf5"]}, "legend": null}}},
        {"transform": [{"filter": "datum.k === 'Synthetic'"}],
         "mark": {"type": "point", "filled": true, "size": 9604, "opacity": 1, "strokeWidth": 0, "blend": "darken"},
         "encoding": {"color": {"field": "r", "type": "nominal", "scale": {"domain": ["64", "128", "256"], "range": ["#b48c8c", "#cc8a8a", "#f88e8e"]}, "legend": null}}},
        {"transform": [{"filter": "datum.k === 'Real'"}],
         "mark": {"type": "point", "filled": true, "size": 9604, "opacity": 1, "strokeWidth": 0, "blend": "lighten"},
         "encoding": {"color": {"field": "r", "type": "nominal", "scale": {"domain": ["64", "128", "256"], "range": ["#8a8ca5", "#8b90b6", "#8c8cc8"]}, "legend": null}}},
        {"transform": [{"filter": "datum.k === 'Synthetic'"}],
         "mark": {"type": "point", "filled": true, "size": 9604, "opacity": 1, "strokeWidth": 0, "blend": "lighten"},
         "encoding": {"color": {"field": "r", "type": "nominal", "scale": {"domain": ["64", "128", "256"], "range": ["#a58c8c", "#b48a8a", "#c88e8e"]}, "legend": null}}},
        {"transform": [{"filter": "datum.k === 'Real'"}],
         "mark": {"type": "arc", "radius": 49, "radius2": 47.6, "theta": 0.5838, "theta2": 2.5578, "opacity": 0.75},
         "encoding": {"color": {"field": "r", "type": "nominal", "scale": {"domain": ["64", "128", "256"], "range": ["#3a1f4e", "#4a1f72", "#7a22a6"]}, "legend": null}}},
        {"transform": [{"filter": "datum.k === 'Synthetic'"}],
         "mark": {"type": "arc", "radius": 49, "radius2": 47.6, "theta": 3.7254, "theta2": 5.6994, "opacity": 0.75},
         "encoding": {"color": {"field": "r", "type": "nominal", "scale": {"domain": ["64", "128", "256"], "range": ["#3a1f4e", "#4a1f72", "#7a22a6"]}, "legend": null}}},
        {"transform": [{"filter": "datum.k === 'Real'"}],
         "mark": {"type": "text", "align": "right", "baseline": "middle", "dy": 60, "fontSize": 17, "font": "DejaVu Sans", "color": "#111111"},
         "encoding": {"text": {"field": "t"}}},
        {"transform": [{"filter": "datum.k === 'Synthetic'"}],
         "mark": {"type": "text", "align": "left", "baseline": "middle", "dy": 60, "fontSize": 17, "font": "DejaVu Sans", "color": "#111111"},
         "encoding": {"text": {"field": "t"}}}
      ],
      "resolve": {"scale": {"color": "independent"}}
    }
  ]
}
